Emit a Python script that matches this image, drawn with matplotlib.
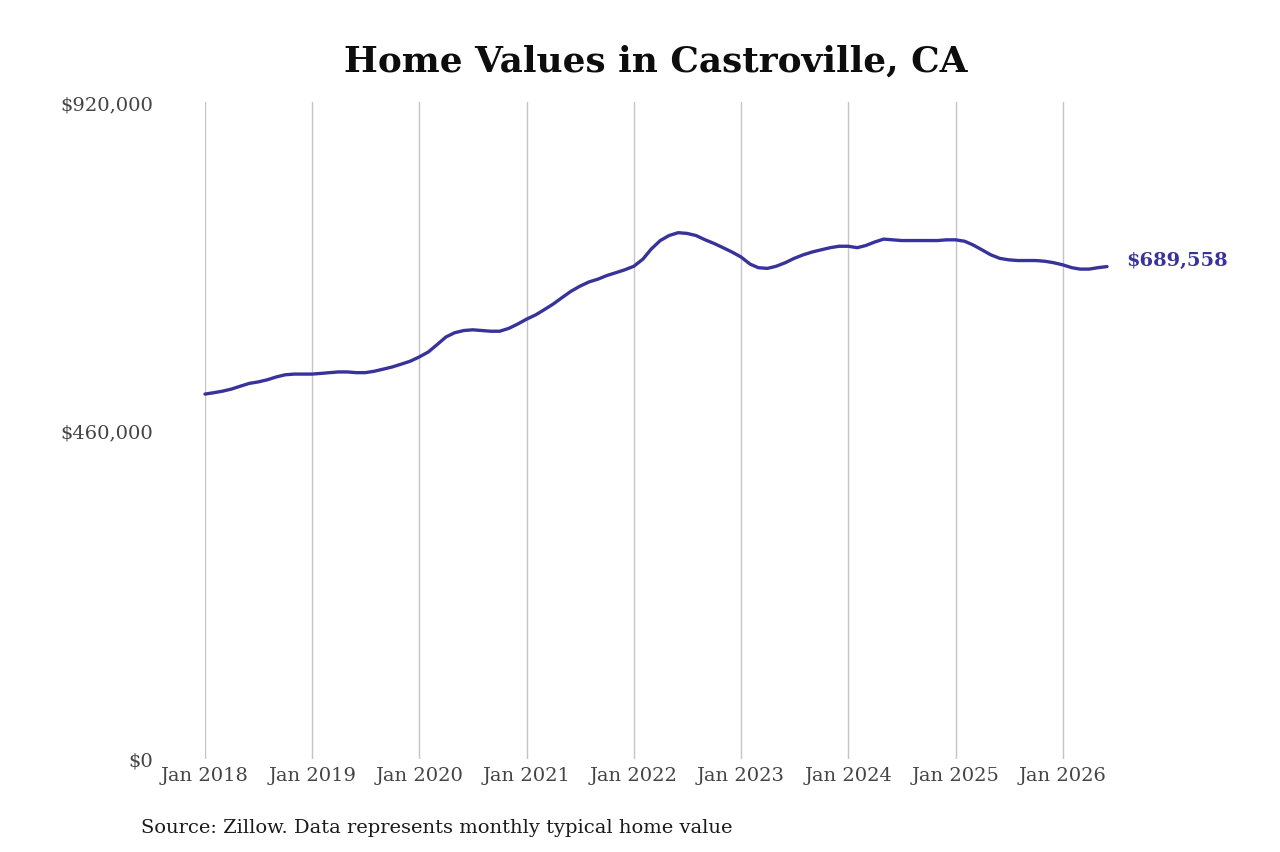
import numpy as np
import pandas as pd
import matplotlib
matplotlib.use("Agg")
import matplotlib.pyplot as plt

# monthly typical home value, Jan 2018 .. Jun 2026 (in $k)
start_month = "2018-01-01"
values_k = [
    511, 513, 515, 518, 522, 526, 528, 531, 535, 538, 539, 539,   # 2018
    539, 540, 541, 542, 542, 541, 541, 543, 546, 549, 553, 557,   # 2019
    563, 570, 580, 591, 597, 600, 601, 600, 599, 599, 603, 609,   # 2020
    616, 622, 629, 637, 646, 655, 662, 668, 672, 677, 681, 685,   # 2021
    690, 700, 714, 726, 733, 737, 736, 733, 727, 722, 716, 710,   # 2022
    703, 693, 688, 687, 690, 695, 701, 706, 710, 713, 716, 718,   # 2023
    718, 716, 719, 724, 728, 727, 726, 726, 726, 726, 726, 727,   # 2024
    727, 725, 720, 713, 706, 701, 699, 698, 698, 698, 697, 695,   # 2025
    692, 688, 686, 686, 688, 689.558,                             # 2026
]
y_ticks = [0, 460000, 920000]
tick_years = list(range(2018, 2027))

dates = pd.date_range(start_month, periods=len(values_k), freq="MS")
values = np.array(values_k) * 1000

line_color = "#38339b"
plt.rcParams["font.family"] = ["DejaVu Serif"]

fig = plt.figure(figsize=(12.8, 8.53), dpi=100)
ax = fig.add_axes([205 / 1280, 1 - 760 / 853, (1107 - 205) / 1280, (760 - 103) / 853])

ax.plot(dates, values, color=line_color, lw=2.4, clip_on=False, solid_capstyle="round")
# end-of-line value label
ax.annotate("${:,.0f}".format(values[-1]), xy=(dates[-1], values[-1]),
            xytext=(14, 5), textcoords="offset points",
            color=line_color, fontsize=14, fontweight="bold", va="center", ha="left")

ax.set_xlim(dates[0], dates[-1])
ax.set_ylim(0, 920000)
ax.set_yticks(y_ticks)
ax.set_yticklabels(["${:,}".format(v) for v in y_ticks])
ax.set_xticks([pd.Timestamp(f"{y}-01-01") for y in tick_years])
ax.set_xticklabels([f"Jan {y}" for y in tick_years])

ax.tick_params(axis="y", length=0, pad=37, labelsize=14, labelcolor="#444444")
ax.tick_params(axis="x", length=0, pad=5, labelsize=14, labelcolor="#444444")
ax.grid(axis="x", color="#c4c4c4", lw=1)
ax.grid(axis="y", visible=False)
for s in ax.spines.values():
    s.set_visible(False)

fig.text(656 / 1280, 1 - 62 / 853, "Home Values in Castroville, CA",
         ha="center", va="center", fontsize=25.8, fontweight="bold", color="#0d0d0d")
fig.text(141 / 1280, 1 - 828 / 853, "Source: Zillow. Data represents monthly typical home value",
         ha="left", va="center", fontsize=14, color="#1a1a1a")

fig.savefig("out.png", dpi=100)
